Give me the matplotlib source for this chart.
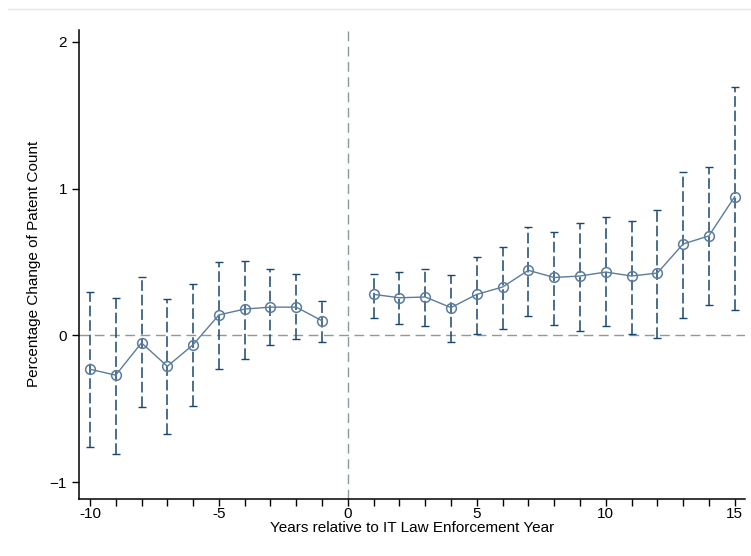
import matplotlib.pyplot as plt
from matplotlib.lines import Line2D

plt.rcParams['font.family'] = ['Liberation Sans', 'DejaVu Sans']

years = [-10, -9, -8, -7, -6, -5, -4, -3, -2, -1,
         1, 2, 3, 4, 5, 6, 7, 8, 9, 10, 11, 12, 13, 14, 15]
coef = [-0.23, -0.27, -0.05, -0.21, -0.063, 0.14, 0.18, 0.193, 0.193, 0.10,
        0.28, 0.257, 0.262, 0.19, 0.28, 0.33, 0.444, 0.395, 0.405, 0.432,
        0.405, 0.425, 0.623, 0.678, 0.945]
ci_hi = [0.295, 0.256, 0.40, 0.25, 0.354, 0.50, 0.505, 0.45, 0.417, 0.233,
         0.42, 0.43, 0.455, 0.414, 0.535, 0.60, 0.74, 0.708, 0.765, 0.805,
         0.78, 0.853, 1.115, 1.15, 1.69]
ci_lo = [-0.76, -0.805, -0.49, -0.67, -0.478, -0.227, -0.16, -0.068, -0.023, -0.041,
         0.12, 0.078, 0.062, -0.044, 0.011, 0.044, 0.136, 0.071, 0.03, 0.062,
         0.011, -0.02, 0.12, 0.21, 0.175]

navy = '#1a476f'
line_col = '#5b7c9c'
ref_col = '#8c9c90'

fig = plt.figure(figsize=(7.51, 5.56), dpi=100)
ax = fig.add_axes([0.105, 0.1034, 0.887, 0.8426])

# reference lines
ax.axhline(0, color=ref_col, lw=1.0, dashes=(7, 4), zorder=1)
ax.axvline(0, color=ref_col, lw=1.0, dashes=(7, 4), zorder=1)

# confidence intervals
err_lo = [c - lo for c, lo in zip(coef, ci_lo)]
err_hi = [hi - c for c, hi in zip(coef, ci_hi)]
eb = ax.errorbar(years, coef, yerr=[err_lo, err_hi], fmt='none', ecolor=navy,
                 elinewidth=1.1, capsize=3, capthick=1.0, zorder=2)
eb[2][0].set_linestyle((0, (7, 2.5)))

# connected point estimates, split around year 0
pre = [i for i, y in enumerate(years) if y < 0]
post = [i for i, y in enumerate(years) if y > 0]
for idx in (pre, post):
    ax.plot([years[i] for i in idx], [coef[i] for i in idx], color=line_col, lw=1.0, zorder=3)
ax.plot(years, coef, 'o', ms=7, mfc='none', mec=line_col, mew=1.1, zorder=4)

ax.set_xlim(-10.43, 15.4)
ax.set_ylim(-1.11, 2.08)
ax.set_xticks(range(-10, 16))
ax.set_xticklabels([str(v) if v % 5 == 0 else '' for v in range(-10, 16)])
ax.set_yticks([-1, 0, 1, 2])
ax.tick_params(direction='out', length=5, width=1, labelsize=11, colors='black')
ax.tick_params(axis='x', pad=1)
for s in ('top', 'right'):
    ax.spines[s].set_visible(False)
for s in ('left', 'bottom'):
    ax.spines[s].set_linewidth(1.1)

ax.set_xlabel('Years relative to IT Law Enforcement Year', fontsize=11, labelpad=0)
ax.set_ylabel('Percentage Change of Patent Count', fontsize=11, labelpad=6)

fig.add_artist(Line2D([0.01, 1.0], [0.984, 0.984], color='#e6e9e9', lw=1))

fig.savefig('out.png', dpi=100)
